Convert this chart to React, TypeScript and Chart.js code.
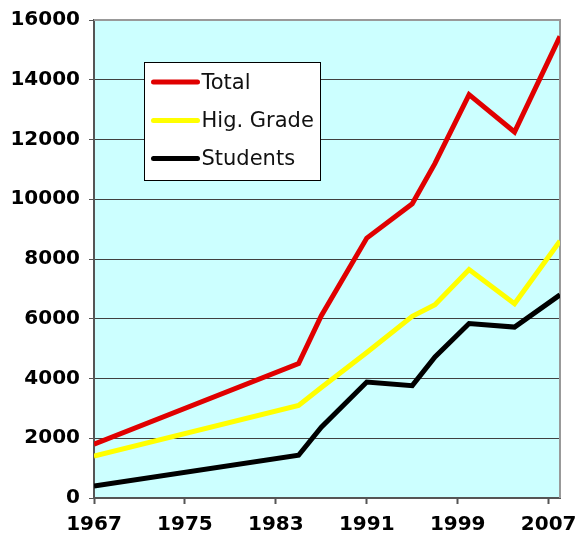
import React, { useEffect, useRef } from "react";
import { Chart, registerables } from "chart.js";

Chart.register(...registerables);

const years = [1967, 1985, 1987, 1991, 1995, 1997, 2000, 2004, 2008];
const total = [1800, 4500, 6100, 8700, 9850, 11200, 13500, 12250, 15450];
const higGrade = [1400, 3100, 3700, 4870, 6080, 6470, 7650, 6500, 8600];
const students = [400, 1430, 2370, 3880, 3760, 4720, 5840, 5720, 6800];

const seriesLabels = ["Total", "Hig. Grade", "Students"];
const seriesColors = ["#E00000", "#FFFF00", "#000000"];
const xTickValues = [1967, 1975, 1983, 1991, 1999, 2007];
const yTickValues = [0, 2000, 4000, 6000, 8000, 10000, 12000, 14000, 16000];

const toPoints = (vals: number[]) => vals.map((v, i) => ({ x: years[i], y: v }));

const plotBgPlugin = {
  id: "plotBg",
  beforeDraw(chart: any) {
    const { ctx, chartArea } = chart;
    ctx.save();
    ctx.fillStyle = "#CCFFFF";
    ctx.fillRect(chartArea.left, chartArea.top, chartArea.right - chartArea.left, chartArea.bottom - chartArea.top);
    ctx.restore();
  },
  beforeDatasetsDraw(chart: any) {
    const { ctx, chartArea } = chart;
    ctx.save();
    ctx.strokeStyle = "#999999";
    ctx.lineWidth = 2;
    ctx.beginPath();
    ctx.moveTo(chartArea.left, chartArea.top);
    ctx.lineTo(chartArea.right, chartArea.top);
    ctx.lineTo(chartArea.right, chartArea.bottom);
    ctx.stroke();
    ctx.restore();
  },
};

const boxLegendPlugin = {
  id: "boxLegend",
  afterDraw(chart: any) {
    const { ctx, chartArea } = chart;
    const left = Math.round(chartArea.left + 50) + 0.5;
    const top = Math.round(chartArea.top + 42) + 0.5;
    const w = 176;
    const h = 118;
    ctx.save();
    ctx.fillStyle = "#FFFFFF";
    ctx.fillRect(left, top, w, h);
    ctx.strokeStyle = "#000000";
    ctx.lineWidth = 1;
    ctx.strokeRect(left, top, w, h);
    const rows = [19.5, 58, 96];
    chart.data.datasets.forEach((ds: any, i: number) => {
      const y = top + rows[i];
      ctx.strokeStyle = ds.borderColor;
      ctx.lineWidth = 5;
      ctx.lineCap = "round";
      ctx.beginPath();
      ctx.moveTo(left + 9, y);
      ctx.lineTo(left + 53, y);
      ctx.stroke();
      ctx.fillStyle = "#111111";
      ctx.font = "21px 'DejaVu Sans'";
      ctx.textBaseline = "middle";
      ctx.textAlign = "left";
      ctx.fillText(ds.label, left + 57, y + 1.5);
    });
    ctx.restore();
  },
};

export default function App() {
  const canvasRef = useRef<HTMLCanvasElement | null>(null);

  useEffect(() => {
    if (!canvasRef.current) return;
    const tickFont = { family: "'DejaVu Sans'", size: 20, weight: "bold" as const };
    const chart = new Chart(canvasRef.current, {
      type: "line",
      data: {
        datasets: [total, higGrade, students].map((vals, i) => ({
          label: seriesLabels[i],
          data: toPoints(vals),
          borderColor: seriesColors[i],
          backgroundColor: seriesColors[i],
          borderWidth: 5,
          pointRadius: 0,
          tension: 0,
          fill: false,
        })),
      },
      options: {
        responsive: false,
        animation: false,
        layout: { padding: { left: 0, top: 20, right: 18, bottom: 0 } },
        plugins: {
          legend: { display: false },
          tooltip: { enabled: false },
        },
        scales: {
          x: {
            type: "linear",
            min: 1967,
            max: 2008,
            afterBuildTicks: (scale: any) => {
              scale.ticks = xTickValues.map((v) => ({ value: v }));
            },
            afterFit: (scale: any) => {
              scale.height = 38;
              scale.paddingLeft = 0;
              scale.paddingRight = 0;
            },
            border: { color: "#555555", width: 2 },
            grid: { drawOnChartArea: false, drawTicks: true, tickLength: 6, tickColor: "#555555", tickWidth: 2 },
            ticks: {
              autoSkip: false,
              maxRotation: 0,
              padding: 9,
              color: "#000000",
              font: tickFont,
              callback: (v: any) => String(v),
            },
          },
          y: {
            type: "linear",
            min: 0,
            max: 16000,
            afterBuildTicks: (scale: any) => {
              scale.ticks = yTickValues.map((v) => ({ value: v }));
            },
            afterFit: (scale: any) => {
              scale.width = 94;
              scale.paddingTop = 0;
              scale.paddingBottom = 0;
            },
            border: { color: "#555555", width: 2 },
            grid: {
              drawOnChartArea: true,
              drawTicks: true,
              tickLength: 5,
              color: (c: any) => (c.tick && c.tick.value === 16000 ? "rgba(0,0,0,0)" : "#404040"),
              tickColor: "#555555",
              lineWidth: 1,
            },
            ticks: {
              padding: 9,
              color: "#000000",
              font: tickFont,
              callback: (v: any) => String(v),
            },
          },
        },
      },
      plugins: [plotBgPlugin, boxLegendPlugin],
    });
    return () => chart.destroy();
  }, []);

  return (
    <div style={{ position: "absolute", left: 0, top: 0, width: 578, height: 536, background: "#FFFFFF" }}>
      <canvas ref={canvasRef} width={578} height={536} />
    </div>
  );
}
